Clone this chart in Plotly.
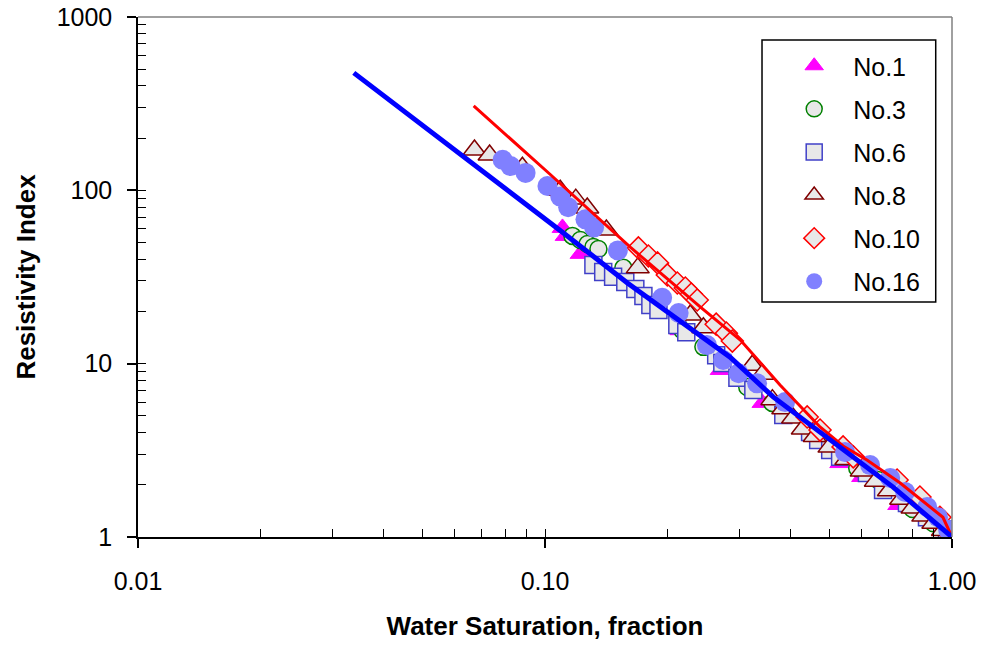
import plotly.graph_objects as go

# ---- data (Water saturation fraction, resistivity index) ----
sw_no1 = [0.1104, 0.1123, 0.1222, 0.155, 0.215, 0.27, 0.342, 0.531, 0.601, 0.737, 1.0]
ri_no1 = [60.7, 54.6, 43.0, 30.0, 15.6, 9.2, 5.94, 2.67, 2.22, 1.53, 1.0]

sw_no3 = [0.1168, 0.1222, 0.1272, 0.1315, 0.1353, 0.1558, 0.2175, 0.245, 0.314, 0.3617, 0.585, 0.658, 0.8, 0.9, 1.0]
ri_no3 = [54.6, 51.7, 49.0, 47.1, 45.9, 35.7, 15.6, 12.5, 7.34, 5.94, 2.5, 2.13, 1.45, 1.2, 1.0]

sw_no6 = [0.1315, 0.139, 0.147, 0.1575, 0.1667, 0.1745, 0.1815, 0.19, 0.2114, 0.2224, 0.2634, 0.2727,
          0.297, 0.325, 0.385, 0.448, 0.469, 0.502, 0.531, 0.618, 0.677, 0.775, 0.868, 0.972, 1.0]
ri_no6 = [37.1, 33.8, 31.7, 29.6, 27.0, 24.6, 21.8, 20.4, 16.7, 15.2, 11.2, 10.1,
          8.3, 7.05, 5.06, 4.04, 3.63, 3.18, 2.9, 2.34, 1.87, 1.57, 1.30, 1.11, 1.0]

sw_no8 = [0.0671, 0.0731, 0.088, 0.109, 0.119, 0.127, 0.1415, 0.169, 0.2275, 0.245, 0.323, 0.342,
          0.362, 0.385, 0.407, 0.43, 0.46, 0.5, 0.55, 0.6, 0.65, 0.7, 0.75, 0.8, 0.85, 0.9, 0.95, 1.0]
ri_no8 = [171, 160, 136, 100, 89, 79, 59, 35.7, 19.1, 16.1, 9.8, 8.7,
          6.2, 5.5, 4.86, 4.2, 3.8, 3.3, 2.8, 2.4, 2.1, 1.85, 1.65, 1.47, 1.32, 1.2, 1.09, 1.0]

sw_no10 = [0.1696, 0.1795, 0.189, 0.1998, 0.2114, 0.2212, 0.2288, 0.2366, 0.2634, 0.279, 0.2886,
           0.4407, 0.474, 0.54, 0.572, 0.733, 0.834, 0.934, 1.0]
ri_no10 = [46.5, 41.8, 38.1, 32.5, 29.2, 27.3, 25.2, 23.3, 16.9, 15.0, 13.5,
           4.93, 4.14, 3.31, 2.9, 2.13, 1.70, 1.30, 1.0]

sw_no16 = [0.0787, 0.0823, 0.0896, 0.1014, 0.109, 0.114, 0.1257, 0.132, 0.151, 0.194, 0.213, 0.25,
           0.274, 0.299, 0.332, 0.389, 0.546, 0.629, 0.705, 0.767, 0.869, 0.924, 0.978, 1.0]
ri_no16 = [150, 138, 126, 106, 92, 80, 68, 61, 45, 24, 19.6, 12.8,
           10.5, 8.8, 7.7, 6.0, 3.09, 2.6, 2.19, 1.82, 1.49, 1.30, 1.10, 1.0]

# fitted trend lines
sw_red = [0.0668, 0.1032, 0.162, 0.241, 0.302, 0.378, 0.474, 0.54, 0.618, 0.746, 0.95, 1.0]
ri_red = [307, 123, 47, 21.2, 13.7, 7.54, 4.31, 3.35, 2.78, 2.05, 1.30, 1.0]

sw_blue = [0.0339, 0.0631, 0.0791, 0.111, 0.1594, 0.224, 0.285, 0.3636, 0.456, 0.572, 0.7167, 1.0]
ri_blue = [476, 157, 103, 56.8, 29.2, 16.3, 10.9, 6.43, 4.31, 2.9, 1.94, 1.0]

x_ticks = [0.01, 0.1, 1.0]
x_ticktext = ["0.01", "0.10", "1.00"]
y_ticks = [1, 10, 100, 1000]
y_ticktext = ["1", "10", "100", "1000"]

FONT = "Arial, 'Liberation Sans', sans-serif"
GRAYFILL = "#E8E8E8"

fig = go.Figure()

series = [
    ("No.1", sw_no1, ri_no1, dict(symbol="triangle-up", size=18, color="#FF00FF",
                                  line=dict(color="#FF00FF", width=1))),
    ("No.3", sw_no3, ri_no3, dict(symbol="circle", size=17, color=GRAYFILL,
                                  line=dict(color="#008000", width=1.5))),
    ("No.6", sw_no6, ri_no6, dict(symbol="square", size=17, color=GRAYFILL,
                                  line=dict(color="#4040C8", width=1.5))),
    ("No.8", sw_no8, ri_no8, dict(symbol="triangle-up", size=20, color=GRAYFILL,
                                  line=dict(color="#800000", width=1.5))),
    ("No.10", sw_no10, ri_no10, dict(symbol="diamond", size=17, color=GRAYFILL,
                                     line=dict(color="#FF0000", width=1.5))),
    ("No.16", sw_no16, ri_no16, dict(symbol="circle", size=20, color="#8080FF",
                                     line=dict(color="#8080FF", width=0))),
]
for i, (name, xs, ys, mk) in enumerate(series):
    fig.add_trace(go.Scatter(x=xs, y=ys, mode="markers", name=name, marker=mk,
                             legendgroup=f"g{i}"))

fig.add_trace(go.Scatter(x=sw_red, y=ri_red, mode="lines", showlegend=False,
                         line=dict(color="#FF0000", width=3)))
fig.add_trace(go.Scatter(x=sw_blue, y=ri_blue, mode="lines", showlegend=False,
                         line=dict(color="#0000FF", width=5)))

fig.update_layout(
    width=982, height=645,
    margin=dict(l=138, r=30, t=17, b=108),
    paper_bgcolor="white", plot_bgcolor="white",
    font=dict(family=FONT, size=25, color="black"),
    legend=dict(x=0.7828, y=0.95, xanchor="left", yanchor="top",
                bgcolor="rgba(0,0,0,0)", borderwidth=0,
                font=dict(size=25), tracegroupgap=7.6, itemwidth=68),
    shapes=[
        dict(type="line", xref="paper", yref="paper", x0=0, x1=1, y0=1, y1=1,
             line=dict(color="#808080", width=1.5)),
        dict(type="line", xref="paper", yref="paper", x0=1, x1=1, y0=0, y1=1,
             line=dict(color="#808080", width=1.5)),
        dict(type="rect", xref="paper", yref="paper", x0=0.7666, x1=0.980, y0=0.452, y1=0.956,
             line=dict(color="black", width=1.5), fillcolor="rgba(255,255,255,0)", layer="above"),
    ],
)

fig.update_xaxes(
    type="log", range=[-2, 0], tickvals=x_ticks, ticktext=x_ticktext, automargin=False,
    ticks="outside", ticklen=9, tickwidth=1.5, tickcolor="black",
    showline=True, linecolor="black", linewidth=1.5, showgrid=False, zeroline=False,
    minor=dict(ticks="inside", ticklen=8, tickwidth=1, tickcolor="black",
               tickvals=[0.02, 0.03, 0.04, 0.05, 0.06, 0.07, 0.08, 0.09, 0.1,
                         0.2, 0.3, 0.4, 0.5, 0.6, 0.7, 0.8, 0.9], showgrid=False),
    ticklabelstandoff=12,
    title=dict(text="<b>Water Saturation, fraction</b>", font=dict(size=26), standoff=23),
)
fig.update_yaxes(
    type="log", range=[0, 3], tickvals=y_ticks, ticktext=y_ticktext, automargin=False,
    ticks="outside", ticklen=9, tickwidth=1.5, tickcolor="black",
    showline=True, linecolor="black", linewidth=1.5, showgrid=False, zeroline=False,
    minor=dict(ticks="inside", ticklen=8, tickwidth=1, tickcolor="black",
               tickvals=[2, 3, 4, 5, 6, 7, 8, 9, 10, 20, 30, 40, 50, 60, 70, 80, 90, 100,
                         200, 300, 400, 500, 600, 700, 800, 900], showgrid=False),
    ticklabelstandoff=10,
    title=dict(text="<b>Resistivity Index</b>", font=dict(size=26), standoff=14),
)

fig.write_html("out.html")
